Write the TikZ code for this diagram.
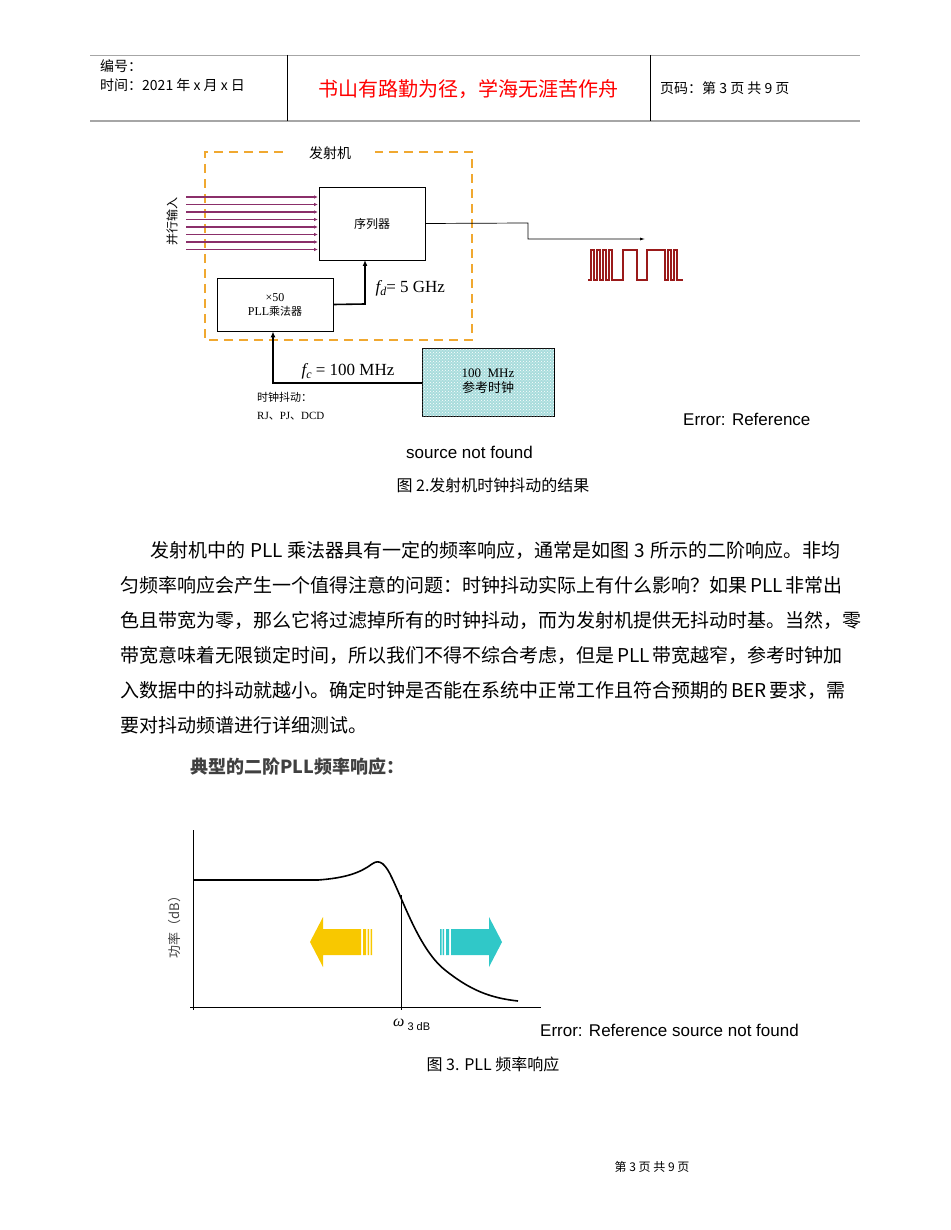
\documentclass[tikz,border=0pt]{standalone}
\usepackage{fontspec}
\setmainfont{Noto Sans CJK SC}
\newfontfamily\lsans{Liberation Sans}
\newfontfamily\lserif{Liberation Serif}
\XeTeXlinebreaklocale "zh"
\XeTeXlinebreakskip=0pt plus 3pt
\usetikzlibrary{patterns,arrows.meta}
\definecolor{orng}{HTML}{F0A830}
\definecolor{purp}{HTML}{8B2F6A}
\definecolor{wred}{HTML}{9A1A1A}
\definecolor{refc}{HTML}{A8DCDC}
\definecolor{yel}{HTML}{F8C800}
\definecolor{cyn}{HTML}{30C8C8}
\tikzset{
 blk/.style={draw,thick,fill=white,inner sep=0},
 body/.style={anchor=base west,inner sep=0,font=\fontsize{19}{19}\selectfont},
}
\newcommand{\bodyline}[1]{\makebox[720pt][s]{#1}}
\begin{document}
\begin{tikzpicture}[x=1pt,y=-1pt]
\useasboundingbox (0,0) rectangle (950,1230);
% header
\draw[gray!70,line width=0.8pt] (90,55) -- (860,55);
\draw[gray!70,line width=1.2pt] (90,121) -- (860,121);
\draw[line width=0.5pt] (287,55) -- (287,121) (650,55) -- (650,121);
\node[anchor=base west,inner sep=0,font=\fontsize{14}{14}\selectfont] (hd1) at (100,72) {编号：};
\node[anchor=base west,inner sep=0,font=\fontsize{14}{14}\selectfont] (hd2) at (100,91) {时间：2021 年 x 月 x 日};
\node[anchor=base,inner sep=0,text=red,font=\fontsize{20}{20}\selectfont] (slog) at (468,97) {书山有路勤为径，学海无涯苦作舟};
\node[anchor=base west,inner sep=0,font=\fontsize{14}{14}\selectfont] (pg) at (660,94) {页码：第 3 页\ 共 9 页};
% diagram 1
\draw[orng,line width=2.2pt,dash pattern=on 9pt off 6pt] (283,152) -- (205,152) -- (205,340) -- (472,340) -- (472,152) -- (375,152);
\node[font=\fontsize{14}{14}\selectfont] (tx) at (330,153) {发射机};
\node[blk,minimum width=106pt,minimum height=73pt,font=\fontsize{12}{12}\selectfont] (ser) at (372,223.5) {序列器};
\foreach \i in {0,...,7}{
 \coordinate (p\i) at (186,197+\i*7.5);
 \draw[purp,line width=1.4pt,-{Latex[length=4pt,width=3.5pt]}] (p\i) -- (318,197+\i*7.5);
}
\node[rotate=90,font=\fontsize{12}{12}\selectfont] (pin) at (172,222) {并行输入};
\coordinate (o1) at (645,239);
\draw[line width=0.7pt,-{Latex[length=5pt,width=3pt]}] (ser.east) -- (528,223) -- (528,239) -- (o1);
\draw[wred,line width=1.3pt] (588,280) -- (591,280) -- (591,250) -- (594,250) -- (594,280) -- (597,280) -- (597,250) -- (600,250) -- (600,280) -- (603,280) -- (603,250) -- (606,250) -- (606,280) -- (609,280) -- (609,250) -- (612,250) -- (612,280) -- (623,280) -- (623,250) -- (637,250) -- (637,280) -- (647,280) -- (647,250) -- (665,250) -- (665,280) -- (668,280) -- (668,250) -- (671,250) -- (671,280) -- (674,280) -- (674,250) -- (677,250) -- (677,280) -- (683,280);
\node[blk,minimum width=116pt,minimum height=53pt,align=center,font=\lserif\fontsize{12}{14}\selectfont] (pll) at (275,304.5) {×50\\PLL{\rmfamily\fontsize{11}{11}\selectfont 乘法器}};
\draw[line width=1.6pt,-{Latex[length=6pt,width=5pt]}] (pll.east) -- (365,304) -- (365,260);
\node[anchor=west,font=\lserif\fontsize{17}{17}\selectfont] (fd) at (372,288) {{\itshape f}\raisebox{-3pt}{\fontsize{12}{12}\selectfont\itshape d}= 5 GHz};
\node[draw,thick,minimum width=132pt,minimum height=68pt,fill=refc] (ref) at (488,382) {};
\fill[pattern=crosshatch dots,pattern color=white] (ref.south west) rectangle (ref.north east);
\node[align=center,font=\lserif\fontsize{13}{15}\selectfont] (reft) at (488,381) {100\ \ MHz\\{\rmfamily 参考时钟}};
\draw[line width=1.6pt,-{Latex[length=6pt,width=5pt]}] (ref.west |- 0,383) -- (273,383) -- (pll.south -| 273,0);
\node[anchor=base,font=\lserif\fontsize{17}{17}\selectfont] (fc) at (348,375) {{\itshape f}\raisebox{-3pt}{\fontsize{12}{12}\selectfont\itshape c} = 100 MHz};
\node[anchor=base west,inner sep=0,font=\fontsize{11}{11}\selectfont] (cj) at (257,401) {时钟抖动：};
\node[anchor=base west,inner sep=0,font=\lserif\fontsize{11}{11}\selectfont] (rj) at (257,419) {RJ{\rmfamily 、}PJ{\rmfamily 、}DCD};
\node[anchor=base west,inner sep=0,font=\lsans\fontsize{17}{17}\selectfont] (e1) at (683,425) {Error: Reference};
\node[anchor=base west,inner sep=0,font=\lsans\fontsize{17}{17}\selectfont] (e2) at (406,458) {source not found};
\node[anchor=base,inner sep=0,font=\fontsize{16}{16}\selectfont] (c2) at (493,491) {图 2.发射机时钟抖动的结果};
% body text
\node[body] (b1) at (150,557) {\makebox[690pt][s]{发射机中的 PLL 乘法器具有一定的频率响应，通常是如图 3 所示的二阶响应。非均}};
\node[body] (b2) at (120,592) {\bodyline{匀频率响应会产生一个值得注意的问题：时钟抖动实际上有什么影响？如果 PLL 非常出}};
\node[body] (b3) at (120,627) {\bodyline{色且带宽为零，那么它将过滤掉所有的时钟抖动，而为发射机提供无抖动时基。当然，零}};
\node[body] (b4) at (120,662) {\bodyline{带宽意味着无限锁定时间，所以我们不得不综合考虑，但是 PLL 带宽越窄，参考时钟加}};
\node[body] (b5) at (120,697) {\bodyline{入数据中的抖动就越小。确定时钟是否能在系统中正常工作且符合预期的 BER 要求，需}};
\node[body] (b6) at (120,732) {要对抖动频谱进行详细测试。};
% diagram 2
\node[anchor=base west,inner sep=0,text=black!75,font=\bfseries\fontsize{18}{18}\selectfont] (t3) at (190,773) {典型的二阶PLL频率响应：};
\draw[line width=0.8pt] (193,830) -- (193,1010);
\draw[line width=0.8pt] (190,1007) -- (541,1007);
\draw[line width=1.6pt] (193,880) -- (318,880) .. controls (345,878) and (360,873) .. (372,864) .. controls (380,858) and (386,865) .. (392,878) .. controls (405,905) and (420,950) .. (445,970) .. controls (470,990) and (490,998) .. (518,1001);
\draw[line width=0.8pt] (401,895) -- (401,1010);
\node[anchor=base west,inner sep=0,font=\lsans\fontsize{11}{11}\selectfont] (w3) at (393,1026) {{\lserif\itshape\fontsize{16}{16}\selectfont ω}\raisebox{-4pt}{\ 3 dB}};
\node[rotate=90,text=black!75,font=\fontsize{13}{13}\selectfont] (yl) at (175,924) {功率（dB）};
% yellow arrow
\fill[yel] (310,942) -- (323,917) -- (323,929) -- (361,929) -- (361,955) -- (323,955) -- (323,967) -- cycle;
\fill[yel] (363,929) rectangle (366,955) (367.5,929) rectangle (369,955) (370.5,929) rectangle (372,955);
% cyan arrow
\fill[cyn] (502,942) -- (489,917) -- (489,929) -- (451,929) -- (451,955) -- (489,955) -- (489,967) -- cycle;
\fill[cyn] (446,929) rectangle (449,955) (442.5,929) rectangle (444,955) (440,929) rectangle (441.5,955);
\node[anchor=base west,inner sep=0,font=\lsans\fontsize{17}{17}\selectfont] (e3) at (540,1036) {Error: Reference source not found};
\node[anchor=base,inner sep=0,font=\fontsize{16}{16}\selectfont] (c3) at (493,1070) {图 3. PLL 频率响应};
\node[anchor=base,inner sep=0,font=\fontsize{12}{12}\selectfont] (ft) at (652,1171) {第 3 页 共 9 页};
\end{tikzpicture}
\end{document}
